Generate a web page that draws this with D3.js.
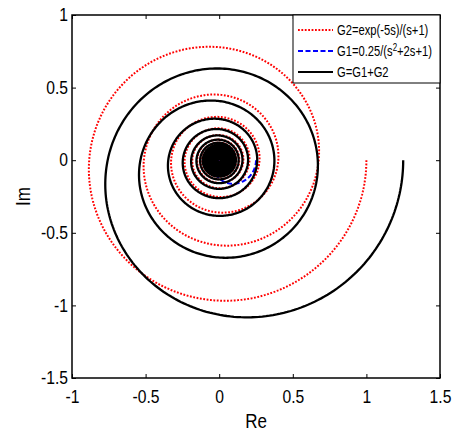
<!DOCTYPE html>
<html>
<head>
<meta charset="utf-8">
<script src="https://d3js.org/d3.v7.min.js"></script>
<style>
  body { margin: 0; background: #fff; }
  text { font-family: "Liberation Sans", Arial, sans-serif; fill: #000; }
</style>
</head>
<body>
<svg id="nyq" width="456" height="433"></svg>
<script>
"use strict";

// Transfer functions from the legend (coefficients, highest power first)
const g2Num = [1],
  g2Den = [1, 1],
  g2Delay = 5;
const g1Num = [0.25],
  g1Den = [1, 2, 1];

// frequency grid (rad/s)
const wStart = 0,
  wEnd = 100,
  wStep = 0.004;

const xTicks = [-1, -0.5, 0, 0.5, 1, 1.5],
  yTicks = [-1.5, -1, -0.5, 0, 0.5, 1];

const legendLabels = ["G2=exp(-5s)/(s+1)", "G1=0.25/(s", "G=G1+G2"];

// complex helpers
function cmul(a, b) { return [a[0] * b[0] - a[1] * b[1], a[0] * b[1] + a[1] * b[0]]; }
function cdiv(a, b) {
  let d = b[0] * b[0] + b[1] * b[1];
  return [(a[0] * b[0] + a[1] * b[1]) / d, (a[1] * b[0] - a[0] * b[1]) / d];
}
function polyval(c, w) {
  // evaluate polynomial at s = jw
  let r = [0, 0];
  c.forEach(function(k) {
    r = cmul(r, [0, w]);
    r[0] += k;
  });
  return r;
}

var g1 = [], g2 = [], g = [];
for (let i = 0; wStart + i * wStep <= wEnd; i++) {
  let w = wStart + i * wStep;
  let a = cdiv(polyval(g1Num, w), polyval(g1Den, w));
  let b = cmul(cdiv(polyval(g2Num, w), polyval(g2Den, w)), [Math.cos(g2Delay * w), -Math.sin(g2Delay * w)]);
  g1.push({ re: a[0], im: a[1] });
  g2.push({ re: b[0], im: b[1] });
  g.push({ re: a[0] + b[0], im: a[1] + b[1] });
}

var graph = {};
graph.svg = d3.select("#nyq");
graph.left = 72;
graph.right = 440;
graph.top = 15;
graph.bottom = 378;

var x = d3.scaleLinear().domain([-1, 1.5]).range([graph.left, graph.right]);
var y = d3.scaleLinear().domain([-1.5, 1]).range([graph.bottom, graph.top]);

graph.svg.append("clipPath")
  .attr("id", "clip")
  .append("rect")
  .attr("x", graph.left)
  .attr("y", graph.top)
  .attr("width", graph.right - graph.left)
  .attr("height", graph.bottom - graph.top);

var line = d3.line()
  .x(d => x(d.re))
  .y(d => y(d.im));

var data_g = graph.svg.append("g").attr("clip-path", "url(#clip)");

data_g.append("path")
  .attr("d", line(g2))
  .attr("fill", "none")
  .attr("stroke", "#ff0000")
  .attr("stroke-width", 2)
  .attr("stroke-dasharray", "1.8,1.6");

data_g.append("path")
  .attr("d", line(g1))
  .attr("fill", "none")
  .attr("stroke", "#0000ff")
  .attr("stroke-width", 2)
  .attr("stroke-dasharray", "5,2.5");

data_g.append("path")
  .attr("d", line(g))
  .attr("fill", "none")
  .attr("stroke", "#000")
  .attr("stroke-width", 2.3);

// axes (ticks pointing inward, MATLAB style)
const fmt = d => String(d);
const sx = 0.87;

var gX = graph.svg.append("g")
  .attr("transform", "translate(0," + graph.bottom + ")")
  .call(d3.axisBottom(x).tickValues(xTicks).tickFormat(fmt).tickSizeInner(-4).tickSizeOuter(0).tickPadding(12));
var gY = graph.svg.append("g")
  .attr("transform", "translate(" + graph.left + ",0)")
  .call(d3.axisLeft(y).tickValues(yTicks).tickFormat(fmt).tickSizeInner(-4).tickSizeOuter(0).tickPadding(4));
var gX2 = graph.svg.append("g")
  .attr("transform", "translate(0," + graph.top + ")")
  .call(d3.axisTop(x).tickValues(xTicks).tickFormat("").tickSizeInner(-4).tickSizeOuter(0));
var gY2 = graph.svg.append("g")
  .attr("transform", "translate(" + graph.right + ",0)")
  .call(d3.axisRight(y).tickValues(yTicks).tickFormat("").tickSizeInner(-4).tickSizeOuter(0));

[gX, gY, gX2, gY2].forEach(function(a) {
  a.select(".domain").remove();
  a.selectAll("line").attr("stroke", "#000").attr("stroke-width", 1);
});

gX.selectAll("text")
  .style("font-size", "18px")
  .attr("transform", "scale(" + sx + ",1)");
gY.selectAll("text")
  .style("font-size", "18px")
  .attr("x", -4 / sx)
  .attr("transform", "scale(" + sx + ",1)");

graph.svg.append("rect")
  .attr("x", graph.left)
  .attr("y", graph.top)
  .attr("width", graph.right - graph.left)
  .attr("height", graph.bottom - graph.top)
  .attr("fill", "none")
  .attr("stroke", "#000")
  .attr("stroke-width", 1.5);

// axis labels
graph.svg.append("text")
  .attr("transform", "translate(" + ((graph.left + graph.right) / 2) + ",428) scale(0.85,1)")
  .attr("text-anchor", "middle")
  .style("font-size", "20px")
  .text("Re");

graph.svg.append("text")
  .attr("transform", "translate(30," + ((graph.top + graph.bottom) / 2) + ") rotate(-90) scale(0.85,1)")
  .attr("text-anchor", "middle")
  .style("font-size", "20px")
  .text("Im");

// legend
var leg = graph.svg.append("g");
leg.append("rect")
  .attr("x", 293)
  .attr("y", graph.top)
  .attr("width", graph.right - 293)
  .attr("height", 68)
  .attr("fill", "#fff")
  .attr("stroke", "#000")
  .attr("stroke-width", 1);

var legStyles = [
  { color: "#ff0000", dash: "1.8,1.6" },
  { color: "#0000ff", dash: "5,2.5" },
  { color: "#000", dash: null }
];
var legY = [30, 51, 72];

legStyles.forEach(function(s, i) {
  leg.append("line")
    .attr("x1", 298)
    .attr("x2", 333)
    .attr("y1", legY[i])
    .attr("y2", legY[i])
    .attr("stroke", s.color)
    .attr("stroke-width", 2)
    .attr("stroke-dasharray", s.dash);
  var t = leg.append("text")
    .attr("transform", "translate(337," + (legY[i] + 5) + ") scale(0.8,1)")
    .style("font-size", "14px")
    .text(legendLabels[i]);
  if (i == 1) {
    t.append("tspan").attr("dy", -5).style("font-size", "10px").text("2");
    t.append("tspan").attr("dy", 5).text("+2s+1)");
  }
});
</script>
</body>
</html>
